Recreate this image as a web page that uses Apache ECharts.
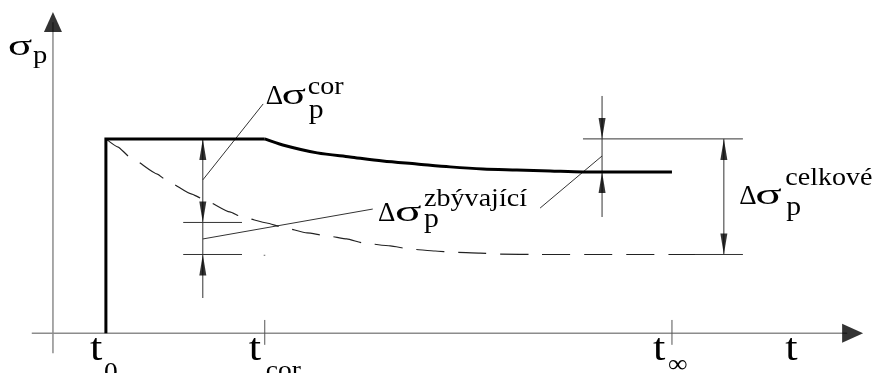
<!DOCTYPE html>
<html><head><meta charset="utf-8">
<script src="https://cdn.jsdelivr.net/npm/echarts@6/dist/echarts.min.js"></script>
<style>html,body{margin:0;padding:0;background:#fff}#c{width:879px;height:373px}</style>
</head><body><div id="c"></div>
<script>
// ---------------- data (time in arbitrary units, stress in % of initial) ----------------
const tickLabels = ['t', 't', 't', 't'];
const tickSubs   = ['0', 'cor', '∞', ''];
const tickTimes  = [1.0, 4.0, 11.69, 13.83];
const sigma0 = 100;          // initial prestress
const sigmaCorLevel = 57.0;  // reference (dashed) value at t_cor
const sigmaInfActual = 83.0; // final actual value
const sigmaInfRef = 40.5;    // final reference value

// actual prestress course (thick line)
const actualT = [1.0, 1.0, 4.0];
const actualS = [0, 100, 100];
const curveT = [4.0, 4.34, 4.99, 5.61, 6.23, 6.87, 7.5, 8.12, 8.76, 9.39, 10.01, 11.69];
const curveS = [100, 96.9, 92.8, 90.7, 88.6, 87.1, 85.6, 84.5, 84.0, 83.5, 83.0, 83.0];
// reference course without correction (dashed)
const refT = [1.0, 1.23, 1.45, 1.97, 2.15, 2.61, 2.83, 3.34, 3.57, 4.04, 4.33, 4.80, 5.18, 5.55, 5.86, 6.37, 6.74, 7.22, 7.54, 8.07, 8.44, 9.2, 12.12];
const refS = [100, 95.8, 90.7, 81.9, 78.5, 71.7, 69.1, 62.4, 59.8, 56.7, 54.6, 51.6, 50.1, 48.5, 46.4, 44.9, 43.3, 42.3, 41.7, 41.2, 40.7, 40.5, 40.5];

// ---------------- layout (annotation positions, data units) ----------------
const dimLeftT = 2.83, dimRightT = 10.37, dimFarT = 12.67;
const FONT = 'Liberation Serif';

const zip = (a, b) => a.map((v, i) => [v, b[i]]);
const segs = [
  // axes
  {p: [[-0.4, 0], [15.0, 0]], c: '#8c8c8c', w: 1.5},
  {p: [[0, -10.3], [0, 160]], c: '#8c8c8c', w: 1.5},
  // ticks
  {p: [[tickTimes[1], -6.0], [tickTimes[1], 6.8]], c: '#555', w: 1},
  {p: [[tickTimes[2], -6.0], [tickTimes[2], 6.8]], c: '#555', w: 1},
  // left dimension
  {p: [[dimLeftT, sigma0], [dimLeftT, 18.1]], c: '#333', w: 1},
  {p: [[2.46, sigmaCorLevel], [3.57, sigmaCorLevel]], c: '#333', w: 1},
  {p: [[2.46, sigmaInfRef], [3.57, sigmaInfRef]], c: '#333', w: 1},
  {p: [[3.98, 40.1], [4.01, 40.1]], c: '#666', w: 1},
  // right dimension
  {p: [[dimRightT, 122.1], [dimRightT, 59.8]], c: '#333', w: 1},
  {p: [[10.01, sigma0], [13.03, sigma0]], c: '#333', w: 1},
  {p: [[12.1, sigmaInfRef], [13.03, sigmaInfRef]], c: '#333', w: 1},
  {p: [[dimFarT, sigma0], [dimFarT, sigmaInfRef]], c: '#333', w: 1},
  // leaders
  {p: [[dimLeftT, 78.9], [3.97, 118]], c: '#333', w: 1},
  {p: [[dimLeftT, 48.5], [6.04, 63.9]], c: '#333', w: 1},
  {p: [[9.20, 64.4], [dimRightT, 91.2]], c: '#333', w: 1}
];

const series = segs.map(s => ({
  type: 'line', data: s.p, showSymbol: false, silent: true, animation: false,
  lineStyle: {color: s.c, width: s.w}, z: 2
}));
series.push({type: 'line', data: zip(refT, refS), showSymbol: false, silent: true, animation: false,
  smooth: 0.15, smoothMonotone: 'x', lineStyle: {color: '#222', width: 1.2, type: [28, 14]}, z: 3});
series.push({type: 'line', data: zip(actualT, actualS), showSymbol: false, silent: true, animation: false,
  lineStyle: {color: '#000', width: 3, join: 'miter'}, z: 4});
series.push({type: 'line', data: zip(curveT, curveS), showSymbol: false, silent: true, animation: false,
  smooth: 0.3, lineStyle: {color: '#000', width: 3}, z: 4});
// arrowheads
series.push({type: 'scatter', silent: true, animation: false, symbol: 'triangle', symbolSize: [7, 21],
  symbolOffset: [0, 10.5], itemStyle: {color: '#000'}, z: 5,
  data: [[dimLeftT, sigma0], [dimLeftT, sigmaInfRef], [dimRightT, sigmaInfActual], [dimFarT, sigma0]]});
series.push({type: 'scatter', silent: true, animation: false, symbol: 'triangle', symbolSize: [7, 21],
  symbolRotate: 180, symbolOffset: [0, -10.5], itemStyle: {color: '#000'}, z: 5,
  data: [[dimLeftT, sigmaCorLevel], [dimRightT, sigma0], [dimFarT, sigmaInfRef]]});
series.push({type: 'scatter', silent: true, animation: false, symbol: 'triangle', symbolSize: [18, 20],
  symbolOffset: [0, 10], itemStyle: {color: '#000'}, z: 5, data: [[0, 165.3]]});
series.push({type: 'scatter', silent: true, animation: false, symbol: 'triangle', symbolSize: [19, 21],
  symbolRotate: -90, symbolOffset: [-10.5, 0], itemStyle: {color: '#000'}, z: 5, data: [[15.3, 0]]});

const chart = echarts.init(document.getElementById('c'));
chart.setOption({
  animation: false,
  grid: {left: 0, right: 0, top: 0, bottom: 0},
  xAxis: {type: 'value', min: -1, max: 15.6, show: false},
  yAxis: {type: 'value', min: -20.5, max: 171.5, show: false},
  series: series
});

// ---------------- text ----------------
function txt(s, x, y, size, sx) {
  return {type: 'text', x: x, y: y - 0.34 * size, scaleX: sx, silent: true, z: 10,
    style: {text: s, x: 0, y: 0, fontFamily: FONT, fontSize: size, fontWeight: 'normal', fill: '#000',
      align: 'left', verticalAlign: 'middle', textAlign: 'left', textVerticalAlign: 'middle'}};
}
// [text, fontSize, scaleX, dx, dy(baseline)]
const labels = [
  {at: [-0.85, 142.2], parts: [['σ', 30, 1.5, 0, 0], ['p', 26, 1.1, 25, 8]]},
  {at: [4.02, 116.7], parts: [['Δ', 27, 1.0, 0, 0], ['σ', 29, 1.55, 16, 0], ['cor', 26, 1.08, 42, -10], ['p', 27, 1.1, 43, 14]]},
  {at: [6.14, 56.6], parts: [['Δ', 27, 1.0, 0, 0], ['σ', 29, 1.7, 17, 0], ['zbývající', 26, 1.08, 46, -15], ['p', 27, 1.1, 46, 6]]},
  {at: [12.96, 65.5], parts: [['Δ', 27, 1.0, 0, 0], ['σ', 29, 1.7, 16, 0], ['celkové', 26, 1.08, 46, -19], ['p', 27, 1.1, 47, 11]]}
];
const tickDx = [-16, -16, -19, 0];
const tickSubDx = [14, 17, 15, 0];
const tickSubDy = [19, 17, 11, 0];
const graphic = [];
labels.forEach(l => {
  const p = chart.convertToPixel({gridIndex: 0}, l.at);
  l.parts.forEach(q => graphic.push(txt(q[0], p[0] + q[3], p[1] + q[4], q[1], q[2])));
});
tickTimes.forEach((t, i) => {
  const p = chart.convertToPixel({gridIndex: 0}, [t, 0]);
  const bx = p[0] + tickDx[i], by = p[1] + 30;
  graphic.push(txt(tickLabels[i], bx, by, 37, 1.2));
  if (tickSubs[i]) graphic.push(txt(tickSubs[i], bx + tickSubDx[i], by + tickSubDy[i], 25, 1.1));
});
chart.setOption({graphic: graphic});
</script></body></html>
